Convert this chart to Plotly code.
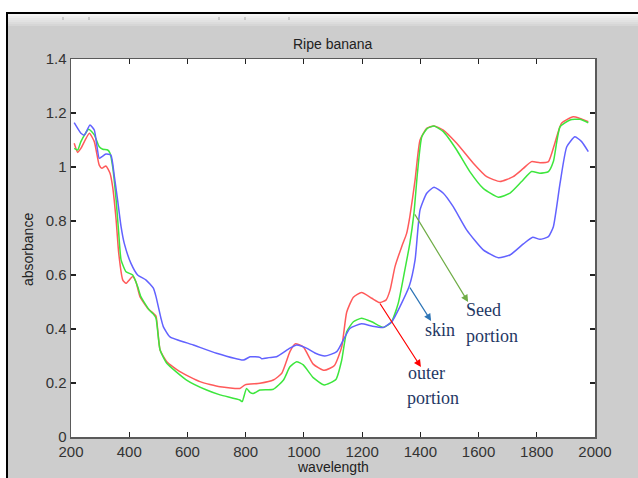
import plotly.graph_objects as go

# ---------------- data ----------------
skin_wl = [211, 234, 246, 265, 280, 297, 306, 320, 337, 349, 360, 372, 383, 406, 429, 458, 483, 492,
           509, 517, 540, 620, 700, 792, 815, 849, 855, 880, 906, 952, 975, 1009, 1040, 1072, 1113,
           1158, 1198, 1233, 1273, 1302, 1330, 1362, 1382, 1399, 1422, 1447, 1479, 1513, 1559, 1616,
           1668, 1708, 1754, 1786, 1811, 1840, 1857, 1880, 1903, 1931, 1954, 1977]
skin_abs = [1.164, 1.125, 1.118, 1.156, 1.137, 1.032, 1.038, 1.048, 1.044, 0.964, 0.878, 0.779, 0.717,
            0.643, 0.600, 0.581, 0.551, 0.520, 0.440, 0.409, 0.371, 0.341, 0.310, 0.285, 0.297, 0.295,
            0.290, 0.294, 0.297, 0.329, 0.341, 0.329, 0.310, 0.300, 0.316, 0.402, 0.419, 0.411, 0.406,
            0.427, 0.483, 0.559, 0.656, 0.841, 0.903, 0.925, 0.903, 0.853, 0.767, 0.693, 0.664, 0.674,
            0.715, 0.740, 0.732, 0.742, 0.779, 0.940, 1.075, 1.112, 1.094, 1.057]

outer_wl = [211, 223, 234, 263, 280, 297, 306, 320, 334, 343, 355, 364, 378, 389, 412, 423, 437, 463,
            483, 492, 506, 529, 574, 643, 712, 780, 798, 849, 895, 924, 952, 970, 998, 1032, 1070,
            1105, 1130, 1147, 1170, 1198, 1233, 1260, 1282, 1296, 1313, 1336, 1353, 1364, 1382, 1399,
            1422, 1447, 1479, 1525, 1582, 1628, 1674, 1719, 1754, 1782, 1811, 1840, 1862, 1885, 1925,
            1948, 1977]
outer_abs = [1.088, 1.054, 1.069, 1.125, 1.094, 1.007, 0.995, 1.004, 0.977, 0.927, 0.804, 0.680, 0.581,
             0.569, 0.594, 0.575, 0.520, 0.477, 0.458, 0.448, 0.322, 0.279, 0.242, 0.205, 0.186, 0.180,
             0.193, 0.199, 0.211, 0.236, 0.316, 0.345, 0.334, 0.270, 0.247, 0.265, 0.334, 0.462, 0.518,
             0.535, 0.514, 0.498, 0.507, 0.544, 0.631, 0.705, 0.754, 0.816, 0.952, 1.100, 1.143, 1.152,
             1.137, 1.088, 1.014, 0.964, 0.946, 0.964, 0.995, 1.020, 1.016, 1.020, 1.088, 1.162, 1.186,
             1.180, 1.168]

seed_wl = [211, 223, 234, 261, 280, 297, 309, 326, 334, 343, 355, 364, 372, 389, 412, 429, 440, 469,
           483, 492, 506, 529, 597, 666, 712, 780, 788, 803, 815, 826, 849, 895, 930, 952, 975, 998,
           1032, 1070, 1110, 1130, 1147, 1170, 1198, 1233, 1273, 1300, 1324, 1347, 1364, 1378, 1390,
           1405, 1424, 1447, 1479, 1525, 1570, 1616, 1668, 1708, 1748, 1782, 1811, 1840, 1857, 1880,
           1914, 1948, 1977]
seed_abs = [1.069, 1.063, 1.094, 1.140, 1.119, 1.075, 1.066, 1.063, 1.051, 1.001, 0.878, 0.754, 0.656,
            0.612, 0.600, 0.557, 0.520, 0.470, 0.455, 0.440, 0.322, 0.273, 0.211, 0.174, 0.156, 0.137,
            0.131, 0.180, 0.165, 0.161, 0.174, 0.177, 0.211, 0.260, 0.279, 0.267, 0.220, 0.193, 0.213,
            0.285, 0.390, 0.427, 0.440, 0.427, 0.406, 0.425, 0.495, 0.620, 0.717, 0.828, 0.977, 1.112,
            1.143, 1.152, 1.131, 1.063, 0.983, 0.921, 0.888, 0.903, 0.946, 0.983, 0.977, 0.983, 1.020,
            1.149, 1.174, 1.177, 1.164]

x_ticks = [200, 400, 600, 800, 1000, 1200, 1400, 1600, 1800, 2000]
y_ticks = [0, 0.2, 0.4, 0.6, 0.8, 1.0, 1.2, 1.4]
y_tick_text = ["0", "0.2", "0.4", "0.6", "0.8", "1", "1.2", "1.4"]

title_text = "Ripe banana"
x_title = "wavelength"
y_title = "absorbance"

# ---------------- layout geometry ----------------
W, H = 638, 478
L, R, T, B = 71, 595, 59, 437   # plot area in pixels


def px(p):
    return (p - L) / (R - L)


def py(p):
    return (B - p) / (B - T)


fig = go.Figure()
line_w = 1.5
fig.add_trace(go.Scatter(x=outer_wl, y=outer_abs, mode="lines",
                         line=dict(color="#ff5a5a", width=line_w, shape="spline", smoothing=0.5)))
fig.add_trace(go.Scatter(x=seed_wl, y=seed_abs, mode="lines",
                         line=dict(color="#3de63d", width=line_w, shape="spline", smoothing=0.5)))
fig.add_trace(go.Scatter(x=skin_wl, y=skin_abs, mode="lines",
                         line=dict(color="#6262ff", width=line_w, shape="spline", smoothing=0.5)))

shapes = []
# white surround (top strip and left strip) outside the black frame
shapes.append(dict(type="rect", xref="paper", yref="paper", x0=px(-5), x1=px(W + 5), y0=py(12), y1=py(-5),
                   fillcolor="white", line=dict(width=0), layer="above"))
shapes.append(dict(type="rect", xref="paper", yref="paper", x0=px(-5), x1=px(6), y0=py(H + 5), y1=py(-5),
                   fillcolor="white", line=dict(width=0), layer="above"))
# light toolbar band
band = ["#f4f4f4", "#eeeeee", "#e8e8e8", "#e2e2e2", "#dcdcdc", "#d6d6d6"]
for i, c in enumerate(band):
    shapes.append(dict(type="rect", xref="paper", yref="paper", x0=px(7), x1=px(W + 5),
                       y0=py(14 + 2 * i + 2), y1=py(14 + 2 * i), fillcolor=c, line=dict(width=0),
                       layer="above"))
for tx in [63, 89, 219, 245, 289]:
    shapes.append(dict(type="line", xref="paper", yref="paper", x0=px(tx), x1=px(tx), y0=py(20), y1=py(17),
                       line=dict(color="#aaaaaa", width=1), layer="above"))
# black frame lines
shapes.append(dict(type="line", xref="paper", yref="paper", x0=px(7), x1=px(W + 5), y0=py(13), y1=py(13),
                   line=dict(color="black", width=2), layer="above"))
shapes.append(dict(type="line", xref="paper", yref="paper", x0=px(7), x1=px(7), y0=py(12), y1=py(H + 5),
                   line=dict(color="black", width=2), layer="above"))

# arrows
arrows = [
    dict(tail=(1378, 0.830), head=(1564, 0.500), color="#70ad47"),
    dict(tail=(1361, 0.559), head=(1437, 0.430), color="#2e75b6"),
    dict(tail=(1258, 0.500), head=(1402, 0.259), color="#ff0000"),
]
annotations = []
for a in arrows:
    annotations.append(dict(x=a["head"][0], y=a["head"][1], ax=a["tail"][0], ay=a["tail"][1],
                            xref="x", yref="y", axref="x", ayref="y", text="", showarrow=True,
                            arrowhead=2, arrowsize=1.2, arrowwidth=1.2, arrowcolor=a["color"]))

label_font = dict(family="Liberation Serif, DejaVu Serif, serif", size=18, color="#1f3864")
labels = [("Seed", 1550, 0.470), ("portion", 1550, 0.374), ("skin", 1409, 0.396),
          ("outer", 1351, 0.237), ("portion", 1347, 0.144)]
for txt, lx, ly in labels:
    annotations.append(dict(x=lx, y=ly, xref="x", yref="y", text=txt, showarrow=False,
                            xanchor="left", yanchor="middle", font=label_font))

# title and axis titles as positioned text
sans = "Liberation Sans, Arial, sans-serif"
annotations.append(dict(x=0.5, y=py(44), xref="paper", yref="paper", text=title_text, showarrow=False,
                        xanchor="center", yanchor="middle", font=dict(family=sans, size=14, color="#222222")))
annotations.append(dict(x=0.5, y=py(467), xref="paper", yref="paper", text=x_title, showarrow=False,
                        xanchor="center", yanchor="middle", font=dict(family=sans, size=14, color="#222222")))
annotations.append(dict(x=px(28), y=py(250), xref="paper", yref="paper", text=y_title, showarrow=False,
                        textangle=-90, xanchor="center", yanchor="middle",
                        font=dict(family=sans, size=14, color="#222222")))

axis_common = dict(showgrid=False, zeroline=False, showline=True, linecolor="#5a5a5a", linewidth=1.5,
                   mirror="ticks", ticks="inside", ticklen=5, tickwidth=1.2, tickcolor="#222222",
                   tickfont=dict(family=sans, size=15, color="#333333"))

fig.update_layout(
    width=W, height=H,
    margin=dict(l=L, r=W - R, t=T, b=H - B, pad=0),
    paper_bgcolor="#cdcdcd", plot_bgcolor="white",
    showlegend=False,
    hovermode=False,
    shapes=shapes,
    annotations=annotations,
    xaxis=dict(range=[200, 2000], tickvals=x_ticks, ticktext=[str(v) for v in x_ticks], **axis_common),
    yaxis=dict(range=[0, 1.4], tickvals=y_ticks, ticktext=y_tick_text, **axis_common),
)

fig.write_html("out.html", config={"displayModeBar": False, "staticPlot": True},
               post_script="document.body.style.margin='0px';document.body.style.overflow='hidden';")
